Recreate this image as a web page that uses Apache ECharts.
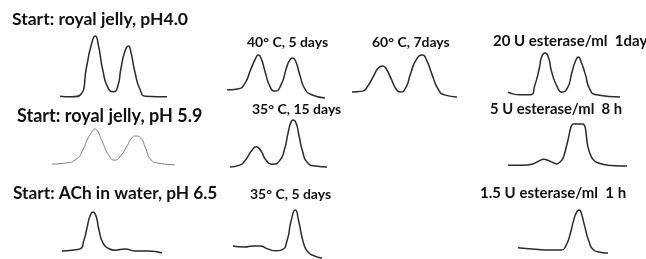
<!DOCTYPE html>
<html>
<head>
<meta charset="utf-8">
<script src="https://cdn.jsdelivr.net/npm/echarts@6/dist/echarts.min.js"></script>
<style>
  html, body { margin: 0; padding: 0; background: #fff; }
  #chart { width: 646px; height: 259px; }
</style>
</head>
<body>
<div id="chart"></div>
<script>
// panel captions
var labels = [
  'Start: royal jelly, pH4.0', '40° C, 5 days', '60° C, 7days', '20 U esterase/ml  1day',
  'Start: royal jelly, pH 5.9', '35° C, 15 days', '5 U esterase/ml  8 h',
  'Start: ACh in water, pH 6.5', '35° C, 5 days', '1.5 U esterase/ml  1 h'
]

// traces: [retention (% of run), relative response]
var jellyPh40 = [[0,3],[11,2],[19,5],[25,52],[29,84],[33,100],[36,84],[40,45],[45,16],[50,10],[54,19],[57,48],[61,77],[64,84],[66,76],[70,42],[75,13],[80,3],[100,2]]
var heat40d5 = [[0,19],[11,21],[18,33],[24,65],[29,91],[32,100],[35,91],[39,60],[44,26],[49,16],[55,30],[61,72],[64,88],[67,93],[70,86],[74,56],[80,19],[87,7],[100,0]]
var heat60d7 = [[0,12],[10,14],[15,26],[21,52],[25,69],[29,74],[32,69],[37,45],[42,19],[46,12],[51,21],[56,57],[61,88],[67,100],[71,88],[76,55],[82,19],[88,5],[100,0]]
var est20d1 = [[0,11],[11,5],[20,5],[24,27],[28,66],[30,91],[33,100],[36,91],[39,57],[44,23],[48,11],[53,20],[57,55],[60,80],[63,91],[65,82],[69,52],[73,18],[79,5],[100,0]]
var jellyPh59 = [[0,5],[11,8],[20,19],[25,43],[29,73],[33,95],[35,100],[37,95],[41,65],[46,30],[51,16],[55,24],[61,54],[65,76],[68,81],[72,76],[76,49],[80,19],[86,8],[100,3]]
var heat35d15 = [[0,0],[10,4],[16,15],[22,34],[27,43],[32,34],[37,15],[44,6],[51,13],[56,36],[60,74],[63,96],[65,100],[68,94],[71,68],[75,32],[80,9],[88,2],[100,0]]
var est5h8 = [[0,2],[12,2],[21,5],[26,12],[30,16],[34,13],[41,5],[46,17],[50,57],[53,94],[55,100],[59,100],[63,100],[65,90],[67,48],[71,17],[76,7],[84,2],[100,0]]
var achWater = [[0,5],[10,7],[18,10],[22,32],[25,61],[28,90],[31,100],[34,90],[37,56],[41,24],[46,12],[53,7],[63,10],[73,5],[86,5],[100,0]]
var heat35d5 = [[0,25],[13,23],[22,25],[30,25],[39,19],[48,15],[55,17],[61,38],[65,75],[70,100],[74,75],[79,33],[84,13],[92,4],[100,0]]
var est15h1 = [[0,12],[19,9],[36,7],[48,7],[53,16],[58,44],[62,77],[66,98],[68,100],[70,95],[74,63],[79,26],[84,7],[91,2],[100,0]]

var traces = [jellyPh40, heat40d5, heat60d7, est20d1, jellyPh59, heat35d15, est5h8, achWater, heat35d5, est15h1]

// layout (px): caption position, caption size and plot box for each panel
var captionPos = [[12, 10], [247, 35], [372, 35], [493, 34], [17, 107], [252, 102], [490, 102], [13, 185], [250, 187], [480, 186]]
var captionSize = [17.5, 14, 14, 15, 18, 14, 14.8, 17.3, 14, 15]
var boxes = [
  [60, 36, 107, 62], [227, 55, 98, 43], [352, 55, 105, 42], [508, 53, 112, 44],
  [52, 129, 123, 37], [230, 120, 97, 47], [508, 124, 119, 42],
  [62, 212, 100, 41], [233, 210, 89, 48], [518, 210, 90, 43]
]

var chart = echarts.init(document.getElementById('chart'))

var grid = [], xAxis = [], yAxis = [], series = [], title = []
traces.forEach(function (d, i) {
  var b = boxes[i]
  grid.push({ left: b[0], top: b[1], width: b[2], height: b[3] })
  xAxis.push({ type: 'value', gridIndex: i, min: 0, max: 100, show: false })
  yAxis.push({ type: 'value', gridIndex: i, min: 0, max: 100, show: false })
  series.push({
    type: 'line',
    xAxisIndex: i,
    yAxisIndex: i,
    data: d,
    // 饱和峰顶少做平滑
    smooth: i === 6 ? 0.25 : 0.6,
    showSymbol: false,
    clip: false,
    lineStyle: i === 4 ? { color: '#7a7a7a', width: 1 } : { color: '#2b2b2b', width: 1.5 }
  })
  title.push({
    text: labels[i],
    left: captionPos[i][0],
    top: captionPos[i][1],
    padding: 0,
    textStyle: { fontFamily: 'Lato', fontWeight: 'bold', fontSize: captionSize[i], color: '#111' }
  })
})

chart.setOption({
  animation: false,
  backgroundColor: '#fff',
  title: title,
  grid: grid,
  xAxis: xAxis,
  yAxis: yAxis,
  series: series
})
</script>
</body>
</html>
